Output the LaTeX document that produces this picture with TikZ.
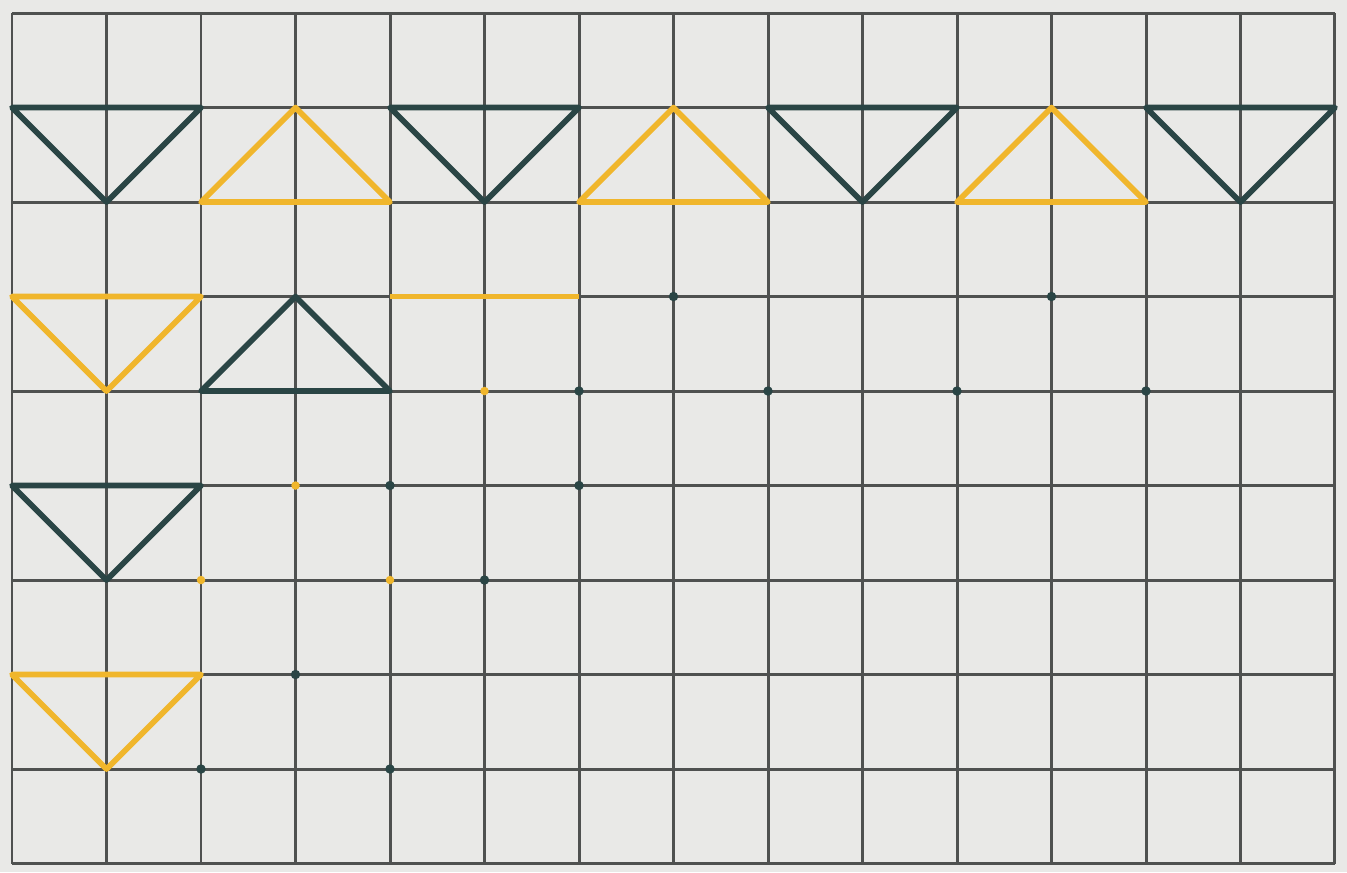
\documentclass[tikz,border=0pt]{standalone}
\definecolor{paper}{HTML}{E9E9E7}
\definecolor{gridc}{HTML}{4F5150}
\definecolor{darkt}{HTML}{2A4545}
\definecolor{yel}{HTML}{F0B62C}
\tikzset{
  gridline/.style={draw=gridc, line width=0.9pt},
  darktri/.style={draw=darkt, line width=1.7pt, line join=round},
  yeltri/.style={draw=yel, line width=1.7pt, line join=round},
  darkdot/.style={fill=darkt},
  yeldot/.style={fill=yel}
}
\begin{document}
\begin{tikzpicture}
\fill[paper] (-0.127,-0.09) rectangle (14.127,9.138);
\useasboundingbox (-0.127,-0.09) rectangle (14.127,9.138);
\draw[gridline] (0,0) grid (14,9);
% top band
\draw[darktri] (0,8) -- (2,8) -- (1,7) -- cycle;
\draw[yeltri] (2,7) -- (4,7) -- (3,8) -- cycle;
\draw[darktri] (4,8) -- (6,8) -- (5,7) -- cycle;
\draw[yeltri] (6,7) -- (8,7) -- (7,8) -- cycle;
\draw[darktri] (8,8) -- (10,8) -- (9,7) -- cycle;
\draw[yeltri] (10,7) -- (12,7) -- (11,8) -- cycle;
\draw[darktri] (12,8) -- (14,8) -- (13,7) -- cycle;
% second band
\draw[yeltri] (0,6) -- (2,6) -- (1,5) -- cycle;
\draw[darktri] (2,5) -- (4,5) -- (3,6) -- cycle;
\draw[yeltri] (4,6) -- (6,6);
\foreach \p in {(7,6),(11,6),(6,5),(8,5),(10,5),(12,5)} \fill[darkdot] \p circle (0.05);
\fill[yeldot] (5,5) circle (0.045);
% third band
\draw[darktri] (0,4) -- (2,4) -- (1,3) -- cycle;
\foreach \p in {(4,4),(6,4),(5,3)} \fill[darkdot] \p circle (0.05);
\foreach \p in {(3,4),(2,3),(4,3)} \fill[yeldot] \p circle (0.045);
% fourth band
\draw[yeltri] (0,2) -- (2,2) -- (1,1) -- cycle;
\foreach \p in {(3,2),(2,1),(4,1)} \fill[darkdot] \p circle (0.05);
\end{tikzpicture}
\end{document}
